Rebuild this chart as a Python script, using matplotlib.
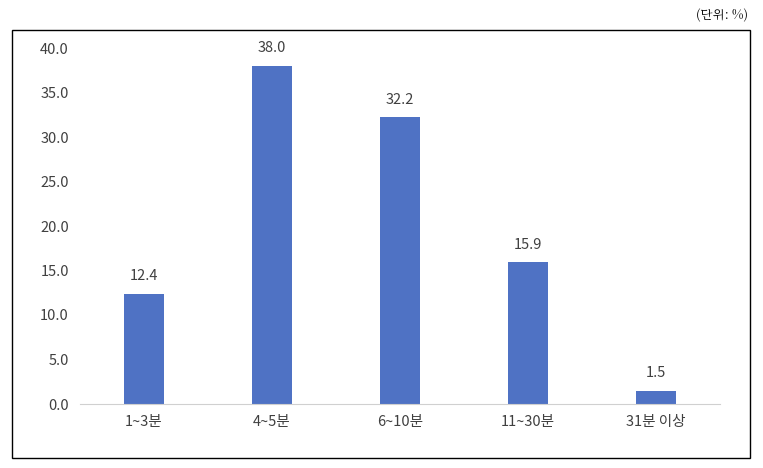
import matplotlib
matplotlib.use("Agg")
import matplotlib.pyplot as plt
from matplotlib.patches import Rectangle

plt.rcParams['font.family'] = ['Noto Sans CJK KR', 'DejaVu Sans']

categories = ["1~3분", "4~5분", "6~10분", "11~30분", "31분 이상"]
values = [12.4, 38.0, 32.2, 15.9, 1.5]
yticks = [0, 5, 10, 15, 20, 25, 30, 35, 40]

fig = plt.figure(figsize=(7.63, 4.68), dpi=100)
fig.patches.append(Rectangle((12/763, 10/468), 738/763, 428/468, transform=fig.transFigure,
                             fill=False, edgecolor='black', linewidth=1))
fig.text(748/763, 1 - 15/468, "(단위: %)", ha='right', va='center', fontsize=9,
         family=['Noto Serif CJK KR', 'Noto Sans CJK KR', 'DejaVu Sans'])

ax = fig.add_axes([80/763, 64/468, 640/763, 356/468])
x = range(len(categories))
bars = ax.bar(x, values, width=0.31, color='#4f72c4')
for xi, v in zip(x, values):
    ax.text(xi, v + 1.2, f"{v:.1f}", ha='center', va='bottom', fontsize=10.5, color='#404040')
ax.set_xticks(list(x))
ax.set_xticklabels(categories, fontsize=10.5, color='#404040')
ax.set_yticks(yticks)
ax.set_yticklabels([f"{t:.1f}" for t in yticks], fontsize=10.5, color='#404040')
ax.set_ylim(0, 40)
ax.set_xlim(-0.5, 4.5)
for s in ['top', 'right', 'left']:
    ax.spines[s].set_visible(False)
ax.spines['bottom'].set_color('#d0d0d0')
ax.tick_params(axis='both', length=0, pad=8)
fig.savefig("out.png", dpi=100)
